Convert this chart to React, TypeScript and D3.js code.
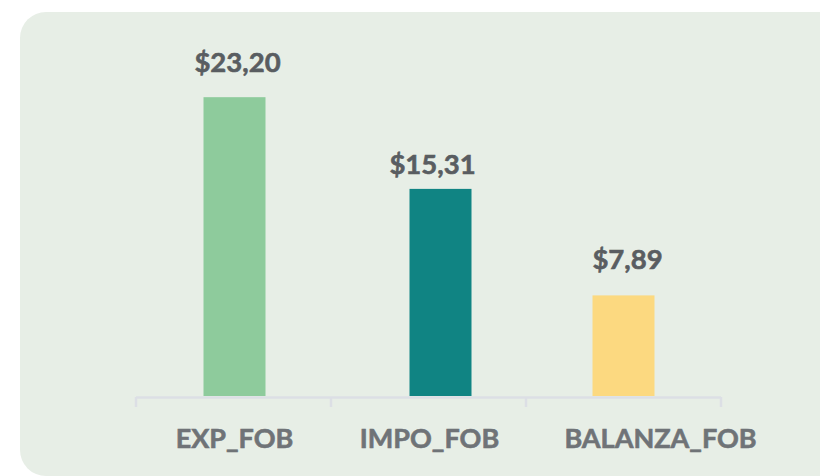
import {useEffect, useRef} from 'react';
import * as d3 from 'd3';

// values; labels as printed on the chart
const categories = ['EXP_FOB', 'IMPO_FOB', 'BALANZA_FOB'];
const values = [23.2, 16.08, 7.81];
const valueLabels = ['$23,20', '$15,31', '$7,89'];
const barColors = ['#8ecb9c', '#108483', '#fcd980'];

export default function App() {
  const svgRef = useRef<SVGSVGElement>(null);

  useEffect(() => {
    if (!svgRef.current) return;
    const width = 820;
    const height = 476;

    d3.select(svgRef.current).selectAll('*').remove();
    const svg = d3.select(svgRef.current).attr('width', width).attr('height', height);

    svg
      .append('rect')
      .attr('x', 20)
      .attr('y', 12)
      .attr('width', 840)
      .attr('height', 464)
      .attr('rx', 26)
      .attr('fill', '#e7eee6');

    const x = d3.scaleBand<string>().domain(categories).range([136, 721]);
    const y = d3.scaleLinear().domain([0, 25]).range([396, 74]);
    const barW = 62;
    // small nudges seen in the original layout
    const barShift = [1, 12, 0];
    const catShift = [1, 1, 37];
    const valShift = [4, 4, 4];
    const valGap = [25, 15, 26];

    svg
      .selectAll('.bar')
      .data(values)
      .join('rect')
      .attr('class', 'bar')
      .attr('x', (d, i) => x(categories[i])! + x.bandwidth() / 2 - barW / 2 + barShift[i])
      .attr('y', (d) => y(d))
      .attr('width', barW)
      .attr('height', (d) => y(0) - y(d))
      .attr('fill', (d, i) => barColors[i]);

    // axis line with ticks
    const axisColor = '#dcdfe5';
    svg
      .append('line')
      .attr('x1', 136)
      .attr('x2', 721)
      .attr('y1', 397.5)
      .attr('y2', 397.5)
      .attr('stroke', axisColor)
      .attr('stroke-width', 2.5);
    const ticks = [...categories.map((c) => x(c)!), 721];
    svg
      .selectAll('.tick')
      .data(ticks)
      .join('line')
      .attr('x1', (d) => d)
      .attr('x2', (d) => d)
      .attr('y1', 397)
      .attr('y2', 407)
      .attr('stroke', axisColor)
      .attr('stroke-width', 2.5);

    svg
      .selectAll('.val')
      .data(values)
      .join('text')
      .attr('class', 'val')
      .attr('x', (d, i) => x(categories[i])! + x.bandwidth() / 2 + valShift[i])
      .attr('y', (d, i) => y(d) - valGap[i])
      .attr('text-anchor', 'middle')
      .attr('font-family', 'Lato, sans-serif')
      .attr('font-weight', 'bold')
      .attr('font-size', '27.5px')
      .attr('fill', '#595d61')
      .attr('stroke', '#595d61')
      .attr('stroke-width', 0.6)
      .text((d, i) => valueLabels[i]);

    svg
      .selectAll('.cat')
      .data(categories)
      .join('text')
      .attr('class', 'cat')
      .attr('x', (d, i) => x(d)! + x.bandwidth() / 2 + catShift[i])
      .attr('y', 448)
      .attr('text-anchor', 'middle')
      .attr('font-family', 'Lato, sans-serif')
      .attr('font-weight', 'bold')
      .attr('font-size', '27px')
      .attr('fill', '#6f7377')
      .attr('stroke', '#6f7377')
      .attr('stroke-width', 0.6)
      .text((d) => d);
  }, []);

  return <svg ref={svgRef} style={{position: 'absolute', left: 0, top: 0, display: 'block'}} />;
}
